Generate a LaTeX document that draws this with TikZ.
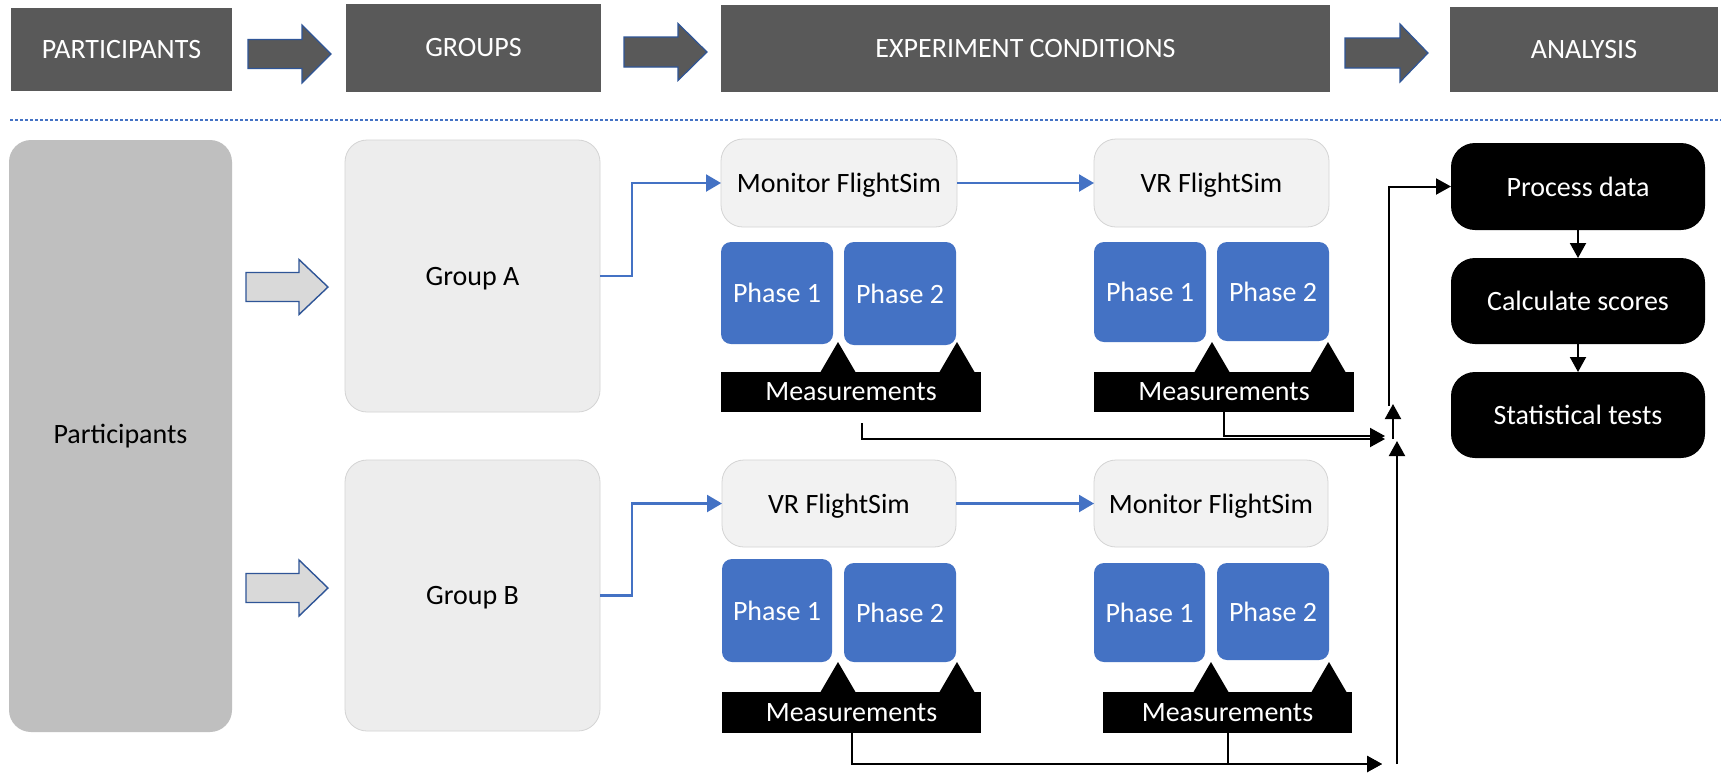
\documentclass[tikz,border=0pt]{standalone}
\usepackage{fontspec}
\setmainfont{Carlito}
\usetikzlibrary{arrows.meta,calc}

\definecolor{hdrgray}{HTML}{595959}
\definecolor{arrowblue}{HTML}{2F5597}
\definecolor{accent}{HTML}{4472C4}
\definecolor{partgray}{HTML}{BFBFBF}
\definecolor{grpgray}{HTML}{EDEDED}
\definecolor{simgray}{HTML}{F2F2F2}
\definecolor{edgegray}{HTML}{D4D4D4}
\definecolor{blockgray}{HTML}{D9D9D9}

\tikzset{
  every node/.style={inner sep=0pt, outer sep=0pt, font=\fontsize{14}{16.8}\selectfont},
  header/.style={fill=hdrgray, text=white},
  partbox/.style={fill=partgray, rounded corners=11pt},
  grpbox/.style={fill=grpgray, draw=edgegray, line width=0.4pt, rounded corners=11pt, text depth=0pt},
  simbox/.style={fill=simgray, draw=edgegray, line width=0.4pt, rounded corners=11pt, text depth=0pt},
  phasebox/.style={fill=accent, text=white, rounded corners=5pt},
  measbox/.style={fill=black, text=white},
  anbox/.style={fill=black, text=white, rounded corners=12pt},
  bk/.style={draw=black, line width=1pt, -{Triangle[length=7.5pt,width=8pt]}},
  bl/.style={draw=accent, line width=1.1pt, -{Triangle[length=7.5pt,width=8.5pt]}},
  hdrarrow/.style={fill=hdrgray, draw=arrowblue, line width=0.6pt},
  lowarrow/.style={fill=blockgray, draw=arrowblue, line width=0.7pt},
  tri/.style={fill=black},
}

% block arrow: start x, head x, tip x, centre y, shaft half height, head half height
\newcommand\blockarrow[7]{%
  \draw[#7] ({#1},{#4-#5}) -- ({#2},{#4-#5}) -- ({#2},{#4-#6}) -- ({#3},{#4})
    -- ({#2},{#4+#6}) -- ({#2},{#4+#5}) -- ({#1},{#4+#5}) -- cycle;}
% marker triangle standing on a measurement bar: apex x, apex y
\newcommand\marker[2]{%
  \fill[tri] ({#1-17.5},{#2+30}) -- ({#1},{#2}) -- ({#1+17.5},{#2+30}) -- cycle;}

\begin{document}
\begin{tikzpicture}[x=0.5pt, y=-0.5pt]
\useasboundingbox (0,0) rectangle (1721,773);
\fill[white] (0,0) rectangle (1721,773);

% ---------- stage headers ----------
\node[header, minimum width=110.5pt, minimum height=41.5pt] (hP) at (121.5,49.5) {PARTICIPANTS};
\node[header, minimum width=127.5pt, minimum height=44pt]   (hG) at (473.5,48) {GROUPS};
\node[header, minimum width=304.5pt, minimum height=43.5pt] (hE) at (1025.5,48.5) {EXPERIMENT CONDITIONS};
\node[header, minimum width=134pt,   minimum height=42.5pt] (hA) at (1584,49.5) {ANALYSIS};

\blockarrow{248}{302}{331}{54}{14.5}{29}{hdrarrow}
\blockarrow{624}{678}{707}{52}{15}{28.5}{hdrarrow}
\blockarrow{1345}{1400}{1428}{53}{15}{29}{hdrarrow}

% separator
\draw[accent, line width=1pt, dash pattern=on 1.5pt off 1pt] (10,120) -- (1721,120);

% ---------- participants and groups ----------
\node[partbox, minimum width=111.5pt, minimum height=296pt] (part) at (120.5,436) {Participants};
\node[grpbox, minimum width=127.5pt, minimum height=136pt]   (grpA) at (472.5,276) {Group A};
\node[grpbox, minimum width=127.5pt, minimum height=135.5pt] (grpB) at (472.5,595.5) {Group B};

\blockarrow{246}{299}{328}{287}{14.5}{27.5}{lowarrow}
\blockarrow{246}{299}{328}{588}{14.5}{28}{lowarrow}

% ---------- group A conditions ----------
\node[simbox, minimum width=118pt,   minimum height=44pt] (simA1) at (839,183) {Monitor FlightSim};
\node[simbox, minimum width=117.5pt, minimum height=44pt] (simA2) at (1211.5,183) {VR FlightSim};
\node[phasebox, minimum width=56pt, minimum height=51pt]   (phA11) at (777,293) {Phase 1};
\node[phasebox, minimum width=56pt, minimum height=51.5pt] (phA12) at (900,293.5) {Phase 2};
\node[phasebox, minimum width=56pt, minimum height=50pt]   (phA21) at (1150,292) {Phase 1};
\node[phasebox, minimum width=56pt, minimum height=49.5pt] (phA22) at (1273,291.5) {Phase 2};
\node[measbox, minimum width=130pt, minimum height=20pt] (measA1) at (851,392) {Measurements};
\node[measbox, minimum width=130pt, minimum height=20pt] (measA2) at (1224,392) {Measurements};
\marker{838}{342}\marker{957}{342}
\marker{1212}{342}\marker{1328}{342}

% ---------- group B conditions ----------
\node[simbox, minimum width=117pt, minimum height=43.5pt] (simB1) at (839,503.5) {VR FlightSim};
\node[simbox, minimum width=117pt, minimum height=43.5pt] (simB2) at (1211,503.5) {Monitor FlightSim};
\node[phasebox, minimum width=55pt,   minimum height=51.5pt] (phB11) at (777,610.5) {Phase 1};
\node[phasebox, minimum width=56pt,   minimum height=49.5pt] (phB12) at (900,612.5) {Phase 2};
\node[phasebox, minimum width=55.5pt, minimum height=49.5pt] (phB21) at (1149.5,612.5) {Phase 1};
\node[phasebox, minimum width=56pt,   minimum height=48.5pt] (phB22) at (1273,611.5) {Phase 2};
\node[measbox, minimum width=129.5pt, minimum height=20.5pt] (measB1) at (851.5,712.5) {Measurements};
\node[measbox, minimum width=124.5pt, minimum height=20.5pt] (measB2) at (1227.5,712.5) {Measurements};
\marker{838}{662}\marker{957}{662}
\marker{1211}{662}\marker{1329}{662}

% ---------- analysis ----------
\node[anbox, minimum width=127pt, minimum height=43.5pt] (proc) at (1578,186.5) {Process data};
\node[anbox, minimum width=127pt, minimum height=43pt]   (calc) at (1578,301) {Calculate scores};
\node[anbox, minimum width=127pt, minimum height=43pt]   (stat) at (1578,415) {Statistical tests};

% ---------- flow between groups and conditions ----------
\draw[bl] (grpA.east) -- ++(32,0) |- (simA1.west);
\draw[bl] (simA1.east) -- (simA2.west);
\draw[bl] (grpB.east) -- ++(32,0) |- (simB1.west);
\draw[bl] (simB1.east) -- (simB2.west);

% ---------- measurements collected for analysis ----------
\coordinate (cA1) at (862,423);
\coordinate (jA)  at (1385,439);
\coordinate (jA2) at (1393,439);
\coordinate (upA) at (1393,404);
\coordinate (upS) at (1389,406);
\coordinate (jB)  at (1382,764);
\coordinate (jB2) at (1397,764);
\coordinate (upB) at (1397,441);

\draw[bk] (cA1) |- (jA);
\draw[bk] (measA2.south) |- ($(jA)+(0,-3)$);
\draw[bk] (jA2) -- (upA);
\draw[bk] (upS) |- (proc.west);
\draw[bk] (measB1.south) |- (jB);
\draw[bk] (measB2.south) |- (jB);
\draw[bk] (jB2) -- (upB);

\draw[bk] (proc.south) -- (calc.north);
\draw[bk] (calc.south) -- (stat.north);
\end{tikzpicture}
\end{document}
